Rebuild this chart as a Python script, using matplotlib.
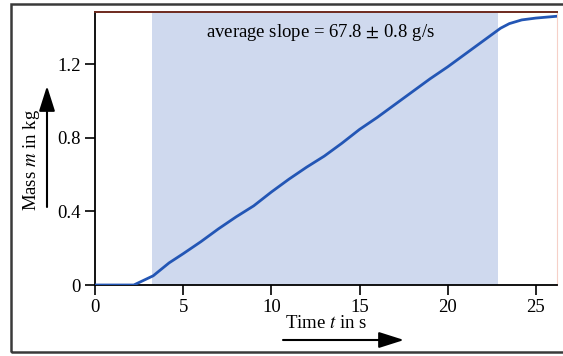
import numpy as np
import matplotlib.pyplot as plt
from matplotlib.patches import Rectangle, FancyArrowPatch

plt.rcParams['font.family'] = ['Liberation Serif', 'DejaVu Serif']
plt.rcParams['mathtext.fontset'] = 'stix'

# measured mass vs time
time_s = [0, 2.2, 3.3, 4.2, 5, 6, 7, 8, 9, 10, 11, 12, 13, 14, 15, 16, 17, 18,
          19, 20, 21, 22, 23, 23.5, 24.2, 25, 26.2]
mass_kg = [0, 0, 0.05, 0.12, 0.17, 0.235, 0.305, 0.37, 0.43, 0.505, 0.575, 0.64,
           0.70, 0.77, 0.845, 0.91, 0.98, 1.05, 1.12, 1.185, 1.255, 1.325, 1.395,
           1.42, 1.44, 1.45, 1.46]
fit_range = (3.25, 22.85)
slope_text = r'average slope = 67.8 $\pm$ 0.8 g/s'
x_ticks = [0, 5, 10, 15, 20, 25]
y_ticks = [0, 0.4, 0.8, 1.2]

W, H = 563, 356
fig = plt.figure(figsize=(W / 100, H / 100), dpi=100)
ax = fig.add_axes([95 / W, 71 / H, (557 - 95) / W, (344 - 71) / H])

ax.axvspan(*fit_range, color='#cfd9ee', lw=0, zorder=0)
ax.plot(time_s, mass_kg, color='#2356b5', lw=2, zorder=3)

ax.set_xlim(0, 26.2)
ax.set_ylim(0, 1.483)
ax.set_xticks(x_ticks)
ax.set_yticks(y_ticks)
ax.set_yticklabels(['0', '0.4', '0.8', '1.2'])
ax.tick_params(direction='out', length=7, width=1.2, labelsize=13.5, colors='black', pad=3)

ax.spines['top'].set_color('#6e2a1e')
ax.spines['top'].set_linewidth(1.4)
ax.spines['right'].set_color('#f6d0c8')
ax.spines['right'].set_linewidth(0.8)
ax.spines['left'].set_linewidth(1.3)
ax.spines['bottom'].set_linewidth(1.3)

ax.text(12.8, 1.37, slope_text, ha='center', va='center', fontsize=13.5)

# axis labels with arrows
fig.text(31 / W, (H - 160) / H, 'Mass $m$ in kg', rotation=90, ha='center', va='center', fontsize=13.5)
fig.text(326 / W, (H - 324) / H, 'Time $t$ in s', ha='center', va='center', fontsize=13.5)
arrow = dict(arrowstyle='-|>,head_length=1.1,head_width=0.35', color='black', lw=1.5,
             shrinkA=0, shrinkB=0, mutation_scale=14)
fig.add_artist(FancyArrowPatch((47, H - 207), (47, H - 86), transform=None, **arrow))
fig.add_artist(FancyArrowPatch((283, H - 340), (404, H - 340), transform=None, **arrow))

# outer frame
fig.add_artist(Rectangle((11 / W, 4 / H), 1.0, (352 - 4) / H, transform=fig.transFigure,
                         fill=False, edgecolor='#3a3a3a', lw=1.8, clip_on=False))

fig.savefig('out.png', dpi=100)
